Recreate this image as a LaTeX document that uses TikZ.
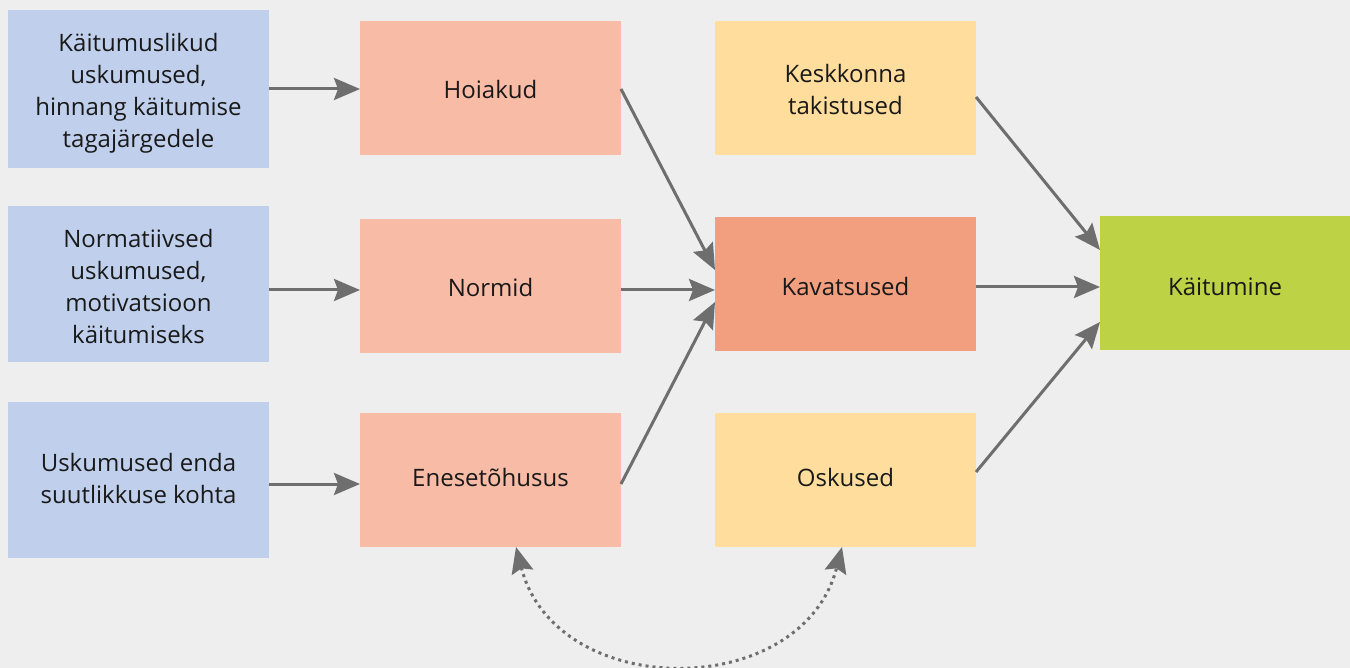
\documentclass[tikz,border=0pt]{standalone}
\usepackage{fontspec}
\setmainfont{Open Sans}
\usetikzlibrary{arrows.meta}
\definecolor{bg}{HTML}{EEEEEE}
\definecolor{cblue}{HTML}{C0D0EC}
\definecolor{csalmon}{HTML}{F8BBA5}
\definecolor{cdark}{HTML}{F29F80}
\definecolor{cyellow}{HTML}{FFDD9C}
\definecolor{cgreen}{HTML}{BDD345}
\definecolor{carrow}{HTML}{6E6E6E}
\tikzset{
  box/.style={draw=none, inner sep=0pt, outer sep=0pt},
  txt/.style={inner sep=0pt, align=center, font=\fontsize{24}{32}\selectfont, text=black!90},
  conn/.style={draw=carrow, line width=3pt, -{Stealth[length=26pt,width=22pt,inset=4pt]}},
  dotconn/.style={draw=carrow, line width=3pt, dash pattern=on 3pt off 4pt,
    {Stealth[length=26pt,width=22pt,inset=4pt]}-{Stealth[length=26pt,width=22pt,inset=4pt]}}
}
\begin{document}
\begin{tikzpicture}[x=1pt,y=-1pt]
\fill[bg] (0,0) rectangle (1350,668);
\useasboundingbox (0,0) rectangle (1350,668);
% column 1
\node[box, fill=cblue, minimum width=261pt, minimum height=158pt] (b1) at (138.5,89) {};
\node[txt] (b1t) at ([yshift=-4pt]b1.center) {Käitumuslikud\\uskumused,\\hinnang käitumise\\tagajärgedele};
\node[box, fill=cblue, minimum width=261pt, minimum height=156pt] (b2) at (138.5,284) {};
\node[txt] (b2t) at ([yshift=-2.5pt]b2.center) {Normatiivsed\\uskumused,\\motivatsioon\\käitumiseks};
\node[box, fill=cblue, minimum width=261pt, minimum height=156pt] (b3) at (138.5,480) {};
\node[txt] (b3t) at ([yshift=2pt]b3.center) {Uskumused enda\\suutlikkuse kohta};
% column 2
\node[box, fill=csalmon, minimum width=261pt, minimum height=134pt] (s1) at (490.5,88) {};
\node[txt] (s1t) at ([yshift=-2pt]s1.center) {Hoiakud};
\node[box, fill=csalmon, minimum width=261pt, minimum height=134pt] (s2) at (490.5,286) {};
\node[txt] (s2t) at ([yshift=-2pt]s2.center) {Normid};
\node[box, fill=csalmon, minimum width=261pt, minimum height=134pt] (s3) at (490.5,480) {};
\node[txt] (s3t) at ([yshift=3pt]s3.center) {Enesetõhusus};
% column 3
\node[box, fill=cyellow, minimum width=261pt, minimum height=134pt] (k1) at (845.5,88) {};
\node[txt] (k1t) at ([yshift=-1.5pt]k1.center) {Keskkonna\\takistused};
\node[box, fill=cdark, minimum width=261pt, minimum height=134pt] (k2) at (845.5,284) {};
\node[txt] (k2t) at ([yshift=-3pt]k2.center) {Kavatsused};
\node[box, fill=cyellow, minimum width=261pt, minimum height=134pt] (k3) at (845.5,480) {};
\node[txt] (k3t) at ([yshift=3pt]k3.center) {Oskused};
% column 4
\node[box, fill=cgreen, minimum width=250pt, minimum height=134pt] (g) at (1225,283) {};
\node[txt] (gt) at ([yshift=-4pt]g.center) {Käitumine};
% connectors
\draw[conn] (b1.east |- 0,89) -- (s1.west |- 0,89);
\draw[conn] (b2.east |- 0,290) -- (s2.west |- 0,290);
\draw[conn] (b3.east |- 0,484) -- (s3.west |- 0,484);
\coordinate (h1) at (621,89);
\coordinate (h2) at (715,270);
\draw[conn] (s1.east |- h1) -- (k2.west |- h2);
\draw[conn] (s2.east |- 0,290) -- (k2.west |- 0,290);
\coordinate (e1) at (621,484);
\coordinate (e2) at (715,302);
\draw[conn] (s3.east |- e1) -- (k2.west |- e2);
\coordinate (t1) at (976,97);
\coordinate (t2) at (1100,250);
\draw[conn] (k1.east |- t1) -- (g.west |- t2);
\draw[conn] (k2.east |- 0,287) -- (g.west |- 0,287);
\coordinate (o1) at (976,472);
\coordinate (o2) at (1100,322);
\draw[conn] (k3.east |- o1) -- (g.west |- o2);
% dotted curve
\draw[dotconn] (s3.south -| 516,0) .. controls (556,702) and (802,702) .. (k3.south -| 842,0);
\end{tikzpicture}
\end{document}
